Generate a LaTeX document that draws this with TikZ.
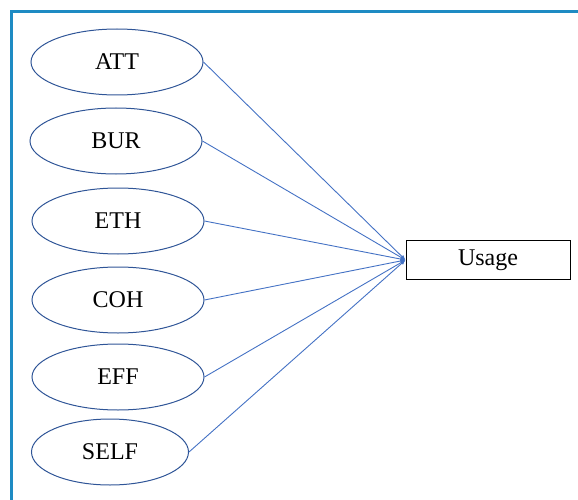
\documentclass[tikz,border=0pt]{standalone}
\usepackage{fontspec}
\setmainfont{Liberation Serif}
\usetikzlibrary{shapes.geometric,arrows.meta}
\definecolor{framecol}{HTML}{1E8BC3}
\definecolor{ellcol}{HTML}{2F5597}
\definecolor{linecol}{HTML}{4472C4}
\begin{document}
\begin{tikzpicture}[x=1pt,y=-1pt,
  factor/.style={ellipse,draw=ellcol,line width=1pt,minimum width=172pt,minimum height=66pt,inner sep=0pt,font=\fontsize{24}{26}\selectfont},
  outbox/.style={rectangle,draw=black,line width=1pt,minimum width=164pt,minimum height=39pt,inner sep=0pt,font=\fontsize{24}{26}\selectfont},
  conn/.style={draw=linecol,line width=0.9pt,-{Latex[length=5pt,width=4pt]}}]
\useasboundingbox (0,0) rectangle (578,500);
\draw[framecol,line width=3pt] (11.5,500) -- (11.5,11.5) -- (578,11.5);
\node[factor] (att) at (117,62) {ATT};
\node[factor] (bur) at (116,141) {BUR};
\node[factor] (eth) at (118,221) {ETH};
\node[factor] (coh) at (118,300) {COH};
\node[factor] (eff) at (118,377) {EFF};
\node[factor,minimum width=157pt] (self) at (110,452) {SELF};
\node[outbox] (usage) at (488,260) {Usage};
\foreach \n in {att,bur,eth,coh,eff,self}
  \draw[conn] (\n.east) -- (usage.west);
\end{tikzpicture}
\end{document}
